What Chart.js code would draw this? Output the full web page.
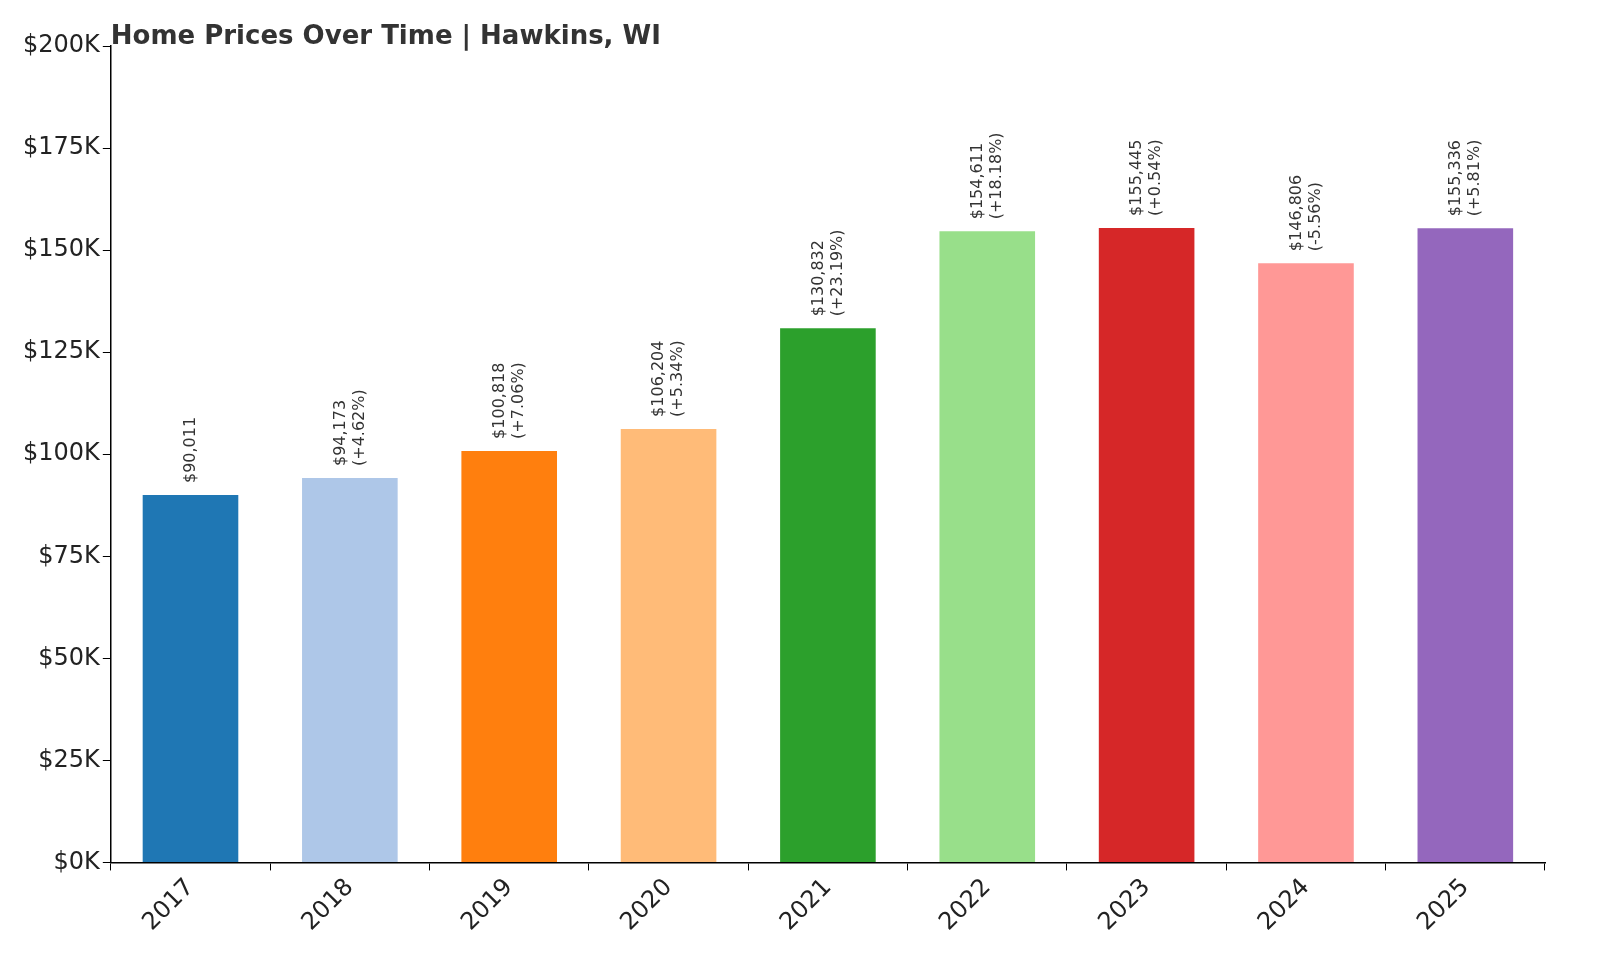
<!DOCTYPE html>
<html><head><meta charset="utf-8">
<script src="https://cdn.jsdelivr.net/npm/chart.js@4"></script>
<style>html,body{margin:0;padding:0;background:#fff}#w{width:1600px;height:960px}</style>
</head><body><div id="w"><canvas id="c"></canvas></div>
<script>
const years = ['2017','2018','2019','2020','2021','2022','2023','2024','2025'];
const prices = [90011,94173,100818,106204,130832,154611,155445,146806,155336];
const changes = [null,'+4.62%','+7.06%','+5.34%','+23.19%','+18.18%','+0.54%','-5.56%','+5.81%'];
const colors = ['#1f77b4','#aec7e8','#ff7f0e','#ffbb78','#2ca02c','#98df8a','#d62728','#ff9896','#9467bd'];
const titleText = 'Home Prices Over Time | Hawkins, WI';

const labelPlugin = {
  id:'lbl',
  afterDatasetsDraw(chart){
    const ctx = chart.ctx;
    const meta = chart.getDatasetMeta(0);
    ctx.save();
    ctx.fillStyle = '#333';
    ctx.font = '16px "DejaVu Sans"';
    meta.data.forEach((bar,i)=>{
      const lines = ['$'+prices[i].toLocaleString('en-US')];
      if (changes[i]) lines.push('('+changes[i]+')');
      ctx.save();
      ctx.translate(bar.x, bar.y - 12);
      ctx.rotate(-Math.PI/2);
      ctx.textAlign='left'; ctx.textBaseline='middle';
      const lh = 19;
      const off = (lines.length-1)*lh/2;
      lines.forEach((t,j)=>ctx.fillText(t,0,-off + j*lh));
      ctx.restore();
    });
    ctx.font = 'bold 26px "DejaVu Sans"';
    ctx.fillStyle = '#333';
    ctx.textAlign='left'; ctx.textBaseline='alphabetic';
    ctx.fillText(titleText, chart.chartArea.left, 44);
    ctx.restore();
  }
};

new Chart(document.getElementById('c'), {
  type:'bar',
  data:{labels:years, datasets:[{data:prices, backgroundColor:colors, barPercentage:0.6, categoryPercentage:1}]},
  options:{
    responsive:true, maintainAspectRatio:false, animation:false,
    layout:{padding:{top:46,right:55,left:20,bottom:20}},
    plugins:{legend:{display:false}, tooltip:{enabled:false}},
    scales:{
      x:{grid:{drawOnChartArea:false, color:'#000', tickLength:8},
         border:{color:'#000', width:1.5},
         ticks:{color:'#222', font:{size:24, family:'DejaVu Sans'}, maxRotation:45, minRotation:45}},
      y:{min:0,max:200000,
         grid:{drawOnChartArea:false, color:'#000', tickLength:8},
         border:{color:'#000', width:1.5},
         ticks:{stepSize:25000, color:'#222', font:{size:24, family:'DejaVu Sans'},
                callback:v=>'$'+(v/1000)+'K'}}
    }
  },
  plugins:[labelPlugin]
});
</script></body></html>
